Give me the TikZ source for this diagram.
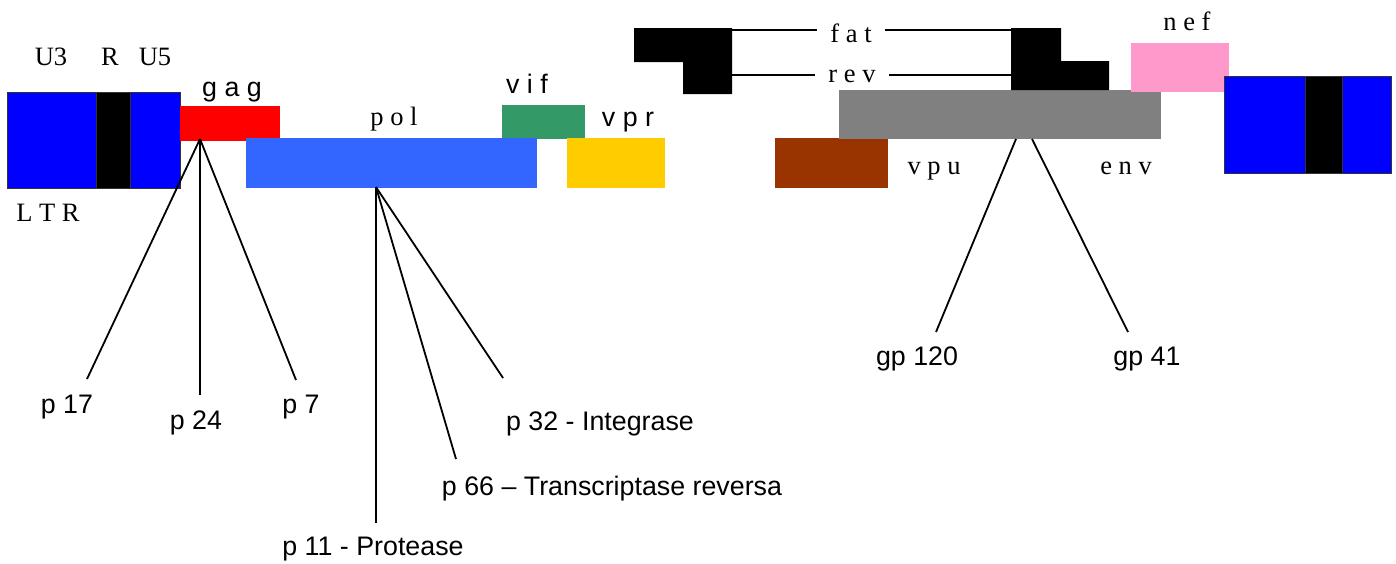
\documentclass[tikz,border=0pt]{standalone}
\usepackage{fontspec}
\setmainfont{Liberation Serif}
\setsansfont{Liberation Sans}
\definecolor{ltrblue}{HTML}{0000FF}
\definecolor{gagred}{HTML}{FF0000}
\definecolor{polblue}{HTML}{3366FF}
\definecolor{vifgreen}{HTML}{339966}
\definecolor{vpryellow}{HTML}{FFCC00}
\definecolor{vpubrown}{HTML}{993300}
\definecolor{envgray}{HTML}{808080}
\definecolor{nefpink}{HTML}{FF99CC}
\definecolor{edgegray}{HTML}{333333}
\begin{document}
\begin{tikzpicture}[x=1pt,y=-1pt,
  gene/.style={draw=none, inner sep=0pt, outer sep=0pt, anchor=north west},
  ltrpart/.style={draw=edgegray, line width=1pt, inner sep=0pt, outer sep=0pt, anchor=north west},
  lab/.style={font=\fontsize{26.5}{30}\selectfont, anchor=base, inner sep=0pt},
  slab/.style={font=\sffamily\fontsize{26.8}{30}\selectfont, anchor=base, inner sep=0pt},
  tlab/.style={font=\fontsize{26.5}{30}\selectfont, anchor=base, inner xsep=13pt, inner ysep=0pt},
  conn/.style={line width=1.8pt, black},
  thin/.style={line width=1.4pt, black}]
\useasboundingbox (0,0) rectangle (1396,563);

% left LTR
\node[ltrpart, fill=ltrblue, minimum width=89pt, minimum height=96pt] (u3box) at (7,92) {};
\node[ltrpart, fill=black, minimum width=34pt, minimum height=96pt] (rbox) at (96,92) {};
\node[ltrpart, fill=ltrblue, minimum width=50pt, minimum height=96pt] (u5box) at (130,92) {};
\node[lab] (u3) at (51,65) {U3};
\node[lab] (r) at (110,65) {R};
\node[lab] (u5) at (155,65) {U5};
\node[lab] (ltr) at (48,221) {L T R};

% genes
\node[gene, fill=gagred, minimum width=100pt, minimum height=35pt] (gag) at (180,106) {};
\node[gene, fill=vifgreen, minimum width=83pt, minimum height=34pt] (vif) at (502,105) {};
\node[gene, fill=polblue, minimum width=291pt, minimum height=50pt] (pol) at (246,138) {};
\node[gene, fill=vpryellow, minimum width=98pt, minimum height=50pt] (vpr) at (567,138) {};
\node[gene, fill=vpubrown, minimum width=113pt, minimum height=50pt] (vpu) at (775,138) {};
\node[gene, fill=envgray, minimum width=322pt, minimum height=49pt] (env) at (839,90) {};
\node[gene, fill=nefpink, minimum width=98pt, minimum height=49pt] (nef) at (1131,43) {};

\node[slab] (gaglab) at (232,96) {g a g};
\node[lab] (pollab) at (394,125) {p o l};
\node[slab] (viflab) at (527,93) {v i f};
\node[slab] (vprlab) at (628,126) {v p r};
\node[lab] (vpulab) at (934,174) {v p u};
\node[lab] (envlab) at (1126,174) {e n v};
\node[lab] (neflab) at (1187,30) {n e f};

% tat / rev exons
\fill[black] (634,28) -- (732,28) -- (732,94) -- (683,94) -- (683,62) -- (634,62) -- cycle;
\fill[black] (1011,28) -- (1061,28) -- (1061,61) -- (1109,61) -- (1109,90) -- (1011,90) -- cycle;
\coordinate (fatL) at (732,30);
\coordinate (fatR) at (1011,30);
\coordinate (revL) at (732,75);
\coordinate (revR) at (1011,75);
\node[tlab] (fat) at (851,42) {f a t};
\node[tlab] (rev) at (852,82) {r e v};
\draw[thin] (fatL) -- (fat.west |- fatL);
\draw[thin] (fat.east |- fatL) -- (fatR);
\draw[thin] (revL) -- (rev.west |- revL);
\draw[thin] (rev.east |- revL) -- (revR);

% right LTR
\node[ltrpart, fill=ltrblue, minimum width=81pt, minimum height=97pt] (u3boxb) at (1224,76) {};
\node[ltrpart, fill=black, minimum width=37pt, minimum height=97pt] (rboxb) at (1305,76) {};
\node[ltrpart, fill=ltrblue, minimum width=49pt, minimum height=97pt] (u5boxb) at (1342,76) {};

% protein labels
\node[slab] (p17) at (67,413) {p 17};
\node[slab] (p24) at (196,429) {p 24};
\node[slab] (p7) at (301,413) {p 7};
\node[slab] (p32) at (600,430) {p 32 - Integrase};
\node[slab] (p66) at (612,495) {p 66 – Transcriptase reversa};
\node[slab] (p11) at (373,555) {p 11 - Protease};
\node[slab] (gp120) at (917,365) {gp 120};
\node[slab] (gp41) at (1147,365) {gp 41};

% connectors
\coordinate (gagapex) at (200,139);
\coordinate (p17end) at (87,379);
\coordinate (p24end) at (200,395);
\coordinate (p7end) at (296,380);
\draw[conn] (gagapex) -- (p17end);
\draw[conn] (gagapex) -- (p24end);
\draw[conn] (gagapex) -- (p7end);

\coordinate (polapex) at (376,187);
\coordinate (p11end) at (376,523);
\coordinate (p66end) at (456,459);
\coordinate (p32end) at (503,378);
\draw[conn] (polapex) -- (p11end);
\draw[conn] (polapex) -- (p66end);
\draw[conn] (polapex) -- (p32end);

\coordinate (envA) at (1016,139);
\coordinate (envB) at (1032,139);
\coordinate (gp120end) at (936,332);
\coordinate (gp41end) at (1128,332);
\draw[conn] (envA) -- (gp120end);
\draw[conn] (envB) -- (gp41end);
\end{tikzpicture}
\end{document}
